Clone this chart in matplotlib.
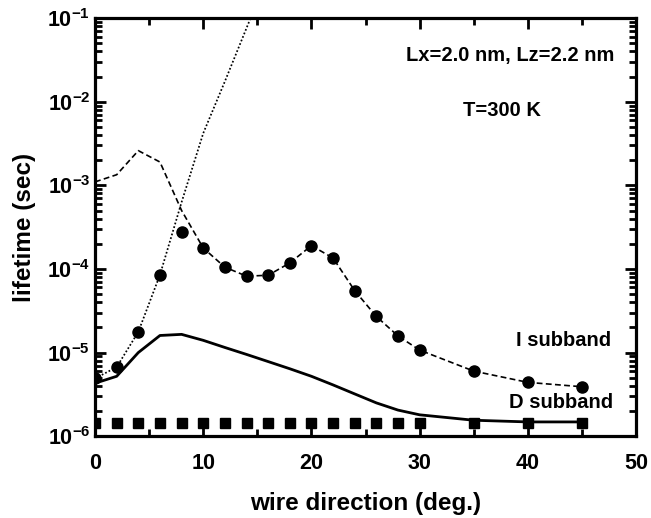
import numpy as np
import matplotlib.pyplot as plt

plt.rcParams['font.family'] = ['Liberation Sans', 'DejaVu Sans']
plt.rcParams['font.weight'] = 'bold'
plt.rcParams['mathtext.fontset'] = 'custom'
plt.rcParams['mathtext.rm'] = 'Liberation Sans:bold'
plt.rcParams['mathtext.bf'] = 'Liberation Sans:bold'

# I subband, computed points (circles)
x_pts = [0, 2, 4, 6, 8, 10, 12, 14, 16, 18, 20, 22, 24, 26, 28, 30, 35, 40, 45]
i_pts = [4.9e-6, 6.7e-6, 1.77e-5, 8.5e-5, 2.77e-4, 1.78e-4, 1.05e-4, 8.2e-5, 8.4e-5,
         1.18e-4, 1.9e-4, 1.35e-4, 5.5e-5, 2.7e-5, 1.58e-5, 1.07e-5, 6.0e-6, 4.4e-6, 3.9e-6]

# dotted curve (low-angle branch)
x_dot = [0, 2, 4, 6, 8, 10, 12, 14, 16]
y_dot = [4.9e-6, 6.7e-6, 1.77e-5, 8.5e-5, 6.3e-4, 4.2e-3, 1.75e-2, 7.6e-2, 3.3e-1]

# dashed curve
x_dash = [0, 2, 4, 6, 8, 10, 12, 14, 16, 18, 20, 22, 24, 26, 28, 30, 35, 40, 45]
y_dash = [1.1e-3, 1.34e-3, 2.6e-3, 1.9e-3, 5.0e-4, 1.78e-4, 1.05e-4, 8.2e-5, 8.4e-5,
          1.18e-4, 1.9e-4, 1.35e-4, 5.5e-5, 2.7e-5, 1.58e-5, 1.07e-5, 6.0e-6, 4.4e-6, 3.9e-6]

# D subband, solid curve
x_sol = [0, 2, 4, 6, 8, 10, 12, 14, 16, 18, 20, 22, 24, 26, 28, 30, 35, 40, 45]
y_sol = [4.3e-6, 5.2e-6, 1.0e-5, 1.6e-5, 1.65e-5, 1.4e-5, 1.15e-5, 9.5e-6, 7.8e-6,
         6.4e-6, 5.2e-6, 4.1e-6, 3.2e-6, 2.5e-6, 2.05e-6, 1.8e-6, 1.55e-6, 1.48e-6, 1.48e-6]

# squares
x_sq = [0, 2, 4, 6, 8, 10, 12, 14, 16, 18, 20, 22, 24, 26, 28, 30, 35, 40, 45]
y_sq = [1.43e-6] * len(x_sq)

fig = plt.figure(figsize=(6.51, 5.18), dpi=100)
ax = fig.add_axes([0.146, 0.158, 0.831, 0.807])

ax.plot(x_dot, y_dot, color='black', linestyle=(0, (1, 1.2)), linewidth=1.25)
ax.plot(x_dash, y_dash, color='black', linestyle=(0, (3.5, 2)), linewidth=1.2)
ax.plot(x_sol, y_sol, color='black', linewidth=2.0)
ax.plot(x_pts, i_pts, 'o', color='black', markersize=8, linestyle='none')
ax.plot(x_sq, y_sq, 's', color='black', markersize=6.5, linestyle='none')

ax.set_yscale('log')
ax.set_xlim(0, 50)
ax.set_ylim(1e-6, 1e-1)
ax.set_xticks([0, 10, 20, 30, 40, 50])
ax.set_xticks([5, 15, 25, 35, 45], minor=True)
ax.set_yticks([1e-6, 1e-5, 1e-4, 1e-3, 1e-2, 1e-1])
ax.set_yticklabels([r'$10^{-6}$', r'$10^{-5}$', r'$10^{-4}$', r'$10^{-3}$',
                    r'$10^{-2}$', r'$10^{-1}$'])

ax.tick_params(which='both', direction='in', top=True, right=True, width=2, labelsize=15.5)
ax.tick_params(which='major', length=8)
ax.tick_params(which='minor', length=5)
ax.tick_params(axis='x', pad=12)
for s in ax.spines.values():
    s.set_linewidth(2.3)

ax.set_xlabel('wire direction (deg.)', fontsize=17.5, fontweight='bold', labelpad=13)
ax.set_ylabel('lifetime (sec)', fontsize=17.5, fontweight='bold', labelpad=8)

ax.text(48.0, 3.6e-2, 'Lx=2.0 nm, Lz=2.2 nm', ha='right', va='center', fontsize=14.5, fontweight='bold')
ax.text(41.2, 7.9e-3, 'T=300 K', ha='right', va='center', fontsize=14.5, fontweight='bold')
ax.text(47.7, 1.4e-5, 'I subband', ha='right', va='center', fontsize=14.5, fontweight='bold')
ax.text(47.9, 2.5e-6, 'D subband', ha='right', va='center', fontsize=14.5, fontweight='bold')

fig.savefig('out.png', dpi=100)
